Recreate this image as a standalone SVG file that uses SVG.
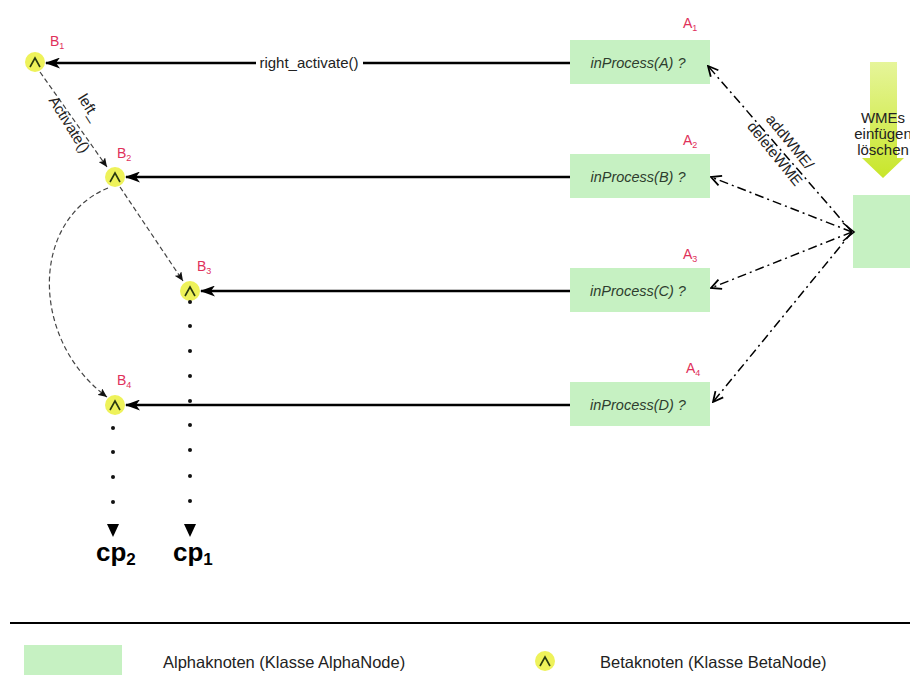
<svg xmlns="http://www.w3.org/2000/svg" width="910" height="675" viewBox="0 0 910 675">
<defs>
<marker id="bigHead" markerWidth="15" markerHeight="11" refX="14" refY="5.5" orient="auto" markerUnits="userSpaceOnUse">
<path d="M15,5.5 L0,0 L4,5.5 L0,11 z" fill="#000"/>
</marker>
<marker id="smallHead" markerWidth="9" markerHeight="8" refX="9" refY="4" orient="auto" markerUnits="userSpaceOnUse">
<path d="M0,0 L9,4 L0,8 L2,4 z" fill="#111"/>
</marker>
<marker id="openHead" markerWidth="12" markerHeight="12" refX="11" refY="6" orient="auto" markerUnits="userSpaceOnUse">
<path d="M1,1 L11,6 L1,11" fill="none" stroke="#000" stroke-width="1.8"/>
</marker>
<linearGradient id="wmeArrow" x1="0" y1="0" x2="0" y2="1">
<stop offset="0" stop-color="#e6f59a"/>
<stop offset="1" stop-color="#c8e62a"/>
</linearGradient>
<style>
.alpha{fill:#c6f1c2}
.atext{font-family:"Liberation Sans",Arial,sans-serif;font-size:14.5px;font-style:italic;fill:#2e3d2e}
.lbl{font-family:"Liberation Sans",Arial,sans-serif;font-size:14px;fill:#e0305a}
.sub{font-size:9px}
.beta{fill:#eef25a}
.caret{fill:none;stroke:#2a3a10;stroke-width:1.6}
.main{stroke:#000;stroke-width:2.5;fill:none;marker-end:url(#bigHead)}
.dash{stroke:#444;stroke-width:1.2;stroke-dasharray:5,3;fill:none;marker-end:url(#smallHead)}
.dd{stroke:#000;stroke-width:1.5;stroke-dasharray:9,4,2,4;fill:none;marker-end:url(#openHead)}
.txt{font-family:"Liberation Sans",Arial,sans-serif;font-size:15px;fill:#222}
.leg{font-family:"Liberation Sans",Arial,sans-serif;font-size:16.5px;fill:#222}
.cp{font-family:"Liberation Sans",Arial,sans-serif;font-size:26px;font-weight:bold;fill:#000}
.dot{fill:#111}
</style>
</defs>
<rect width="910" height="675" fill="#fff"/>

<g id="A1"><rect class="alpha" x="570" y="40" width="140" height="44"/><text class="atext" x="638" y="68" text-anchor="middle">inProcess(A) ?</text><text class="lbl" x="683" y="28">A<tspan class="sub" dy="3">1</tspan></text></g>
<g id="A2"><rect class="alpha" x="570" y="154" width="140" height="44"/><text class="atext" x="638" y="182" text-anchor="middle">inProcess(B) ?</text><text class="lbl" x="683" y="145">A<tspan class="sub" dy="3">2</tspan></text></g>
<g id="A3"><rect class="alpha" x="570" y="268" width="140" height="44"/><text class="atext" x="638" y="296" text-anchor="middle">inProcess(C) ?</text><text class="lbl" x="683" y="259">A<tspan class="sub" dy="3">3</tspan></text></g>
<g id="A4"><rect class="alpha" x="570" y="382" width="140" height="44"/><text class="atext" x="638" y="410" text-anchor="middle">inProcess(D) ?</text><text class="lbl" x="686" y="373">A<tspan class="sub" dy="3">4</tspan></text></g>

<g id="B1"><circle class="beta" cx="35" cy="62" r="10"/><path class="caret" d="M30,67 L35,58 L40,67"/><text class="lbl" x="50" y="46">B<tspan class="sub" dy="3">1</tspan></text></g>
<g id="B2"><circle class="beta" cx="115" cy="177" r="10"/><path class="caret" d="M110,182 L115,173 L120,182"/><text class="lbl" x="117" y="158">B<tspan class="sub" dy="3">2</tspan></text></g>
<g id="B3"><circle class="beta" cx="190" cy="291" r="10"/><path class="caret" d="M185,296 L190,287 L195,296"/><text class="lbl" x="197" y="271">B<tspan class="sub" dy="3">3</tspan></text></g>
<g id="B4"><circle class="beta" cx="115" cy="405" r="10"/><path class="caret" d="M110,410 L115,401 L120,410"/><text class="lbl" x="117" y="385">B<tspan class="sub" dy="3">4</tspan></text></g>

<g id="WME">
<path d="M870,62 L897,62 L897,158 L904,158 L883,178 L862,158 L870,158 z" fill="url(#wmeArrow)"/>
<rect class="alpha" x="853" y="195" width="60" height="73"/>
<text class="txt" x="883" y="123" text-anchor="middle">WMEs</text>
<text class="txt" x="883" y="139" text-anchor="middle">einfügen</text>
<text class="txt" x="883" y="155" text-anchor="middle">löschen</text>
</g>

<g id="connectors">
<line class="main" x1="570" y1="63" x2="46" y2="63"/>
<rect x="256" y="55" width="107" height="16" fill="#fff"/>
<text class="txt" x="309" y="68" text-anchor="middle" font-size="16">right_activate()</text>
<line class="main" x1="570" y1="177" x2="126" y2="177"/>
<line class="main" x1="570" y1="291" x2="201" y2="291"/>
<line class="main" x1="570" y1="405" x2="126" y2="405"/>

<line class="dash" x1="40" y1="72" x2="107" y2="167"/>
<text class="txt" transform="translate(85,110) rotate(58)" text-anchor="middle">left_</text>
<text class="txt" transform="translate(65,127) rotate(58)" text-anchor="middle">Activate()</text>
<line class="dash" x1="120" y1="187" x2="183" y2="281"/>
<path class="dash" d="M108,188 C30,220 30,340 107,397"/>

<line class="dd" x1="852" y1="232" x2="708" y2="66"/>
<line class="dd" x1="852" y1="232" x2="711" y2="177"/>
<line class="dd" x1="852" y1="232" x2="711" y2="288"/>
<line class="dd" x1="852" y1="232" x2="713" y2="402"/>
<path d="M843,223 L854,232 L843,241" fill="none" stroke="#000" stroke-width="1.6"/>
<text class="txt" transform="translate(786,145) rotate(51)" text-anchor="middle">addWME/</text>
<text class="txt" transform="translate(771,157) rotate(51)" text-anchor="middle">deleteWME</text>

<g class="dot">
<circle cx="190" cy="302" r="2"/><circle cx="190" cy="326" r="2"/><circle cx="190" cy="351" r="2"/><circle cx="190" cy="376" r="2"/><circle cx="190" cy="401" r="2"/><circle cx="190" cy="425" r="2"/><circle cx="190" cy="450" r="2"/><circle cx="190" cy="476" r="2"/><circle cx="190" cy="501" r="2"/>
<circle cx="113" cy="428" r="2"/><circle cx="113" cy="452" r="2"/><circle cx="113" cy="477" r="2"/><circle cx="113" cy="502" r="2"/>
</g>
<path d="M184,524 L196,524 L190,537 z" fill="#000"/>
<path d="M107,524 L119,524 L113,537 z" fill="#000"/>
</g>

<text class="cp" x="96" y="561">cp<tspan font-size="17" dy="4">2</tspan></text>
<text class="cp" x="173" y="561">cp<tspan font-size="17" dy="4">1</tspan></text>

<g id="legend">
<line x1="10" y1="623" x2="910" y2="623" stroke="#000" stroke-width="2"/>
<rect class="alpha" x="24" y="645" width="98" height="30"/>
<text class="leg" x="163" y="668">Alphaknoten (Klasse AlphaNode)</text>
<circle class="beta" cx="545" cy="661" r="10"/>
<path class="caret" d="M540,666 L545,657 L550,666"/>
<text class="leg" x="600" y="668">Betaknoten (Klasse BetaNode)</text>
</g>
</svg>
